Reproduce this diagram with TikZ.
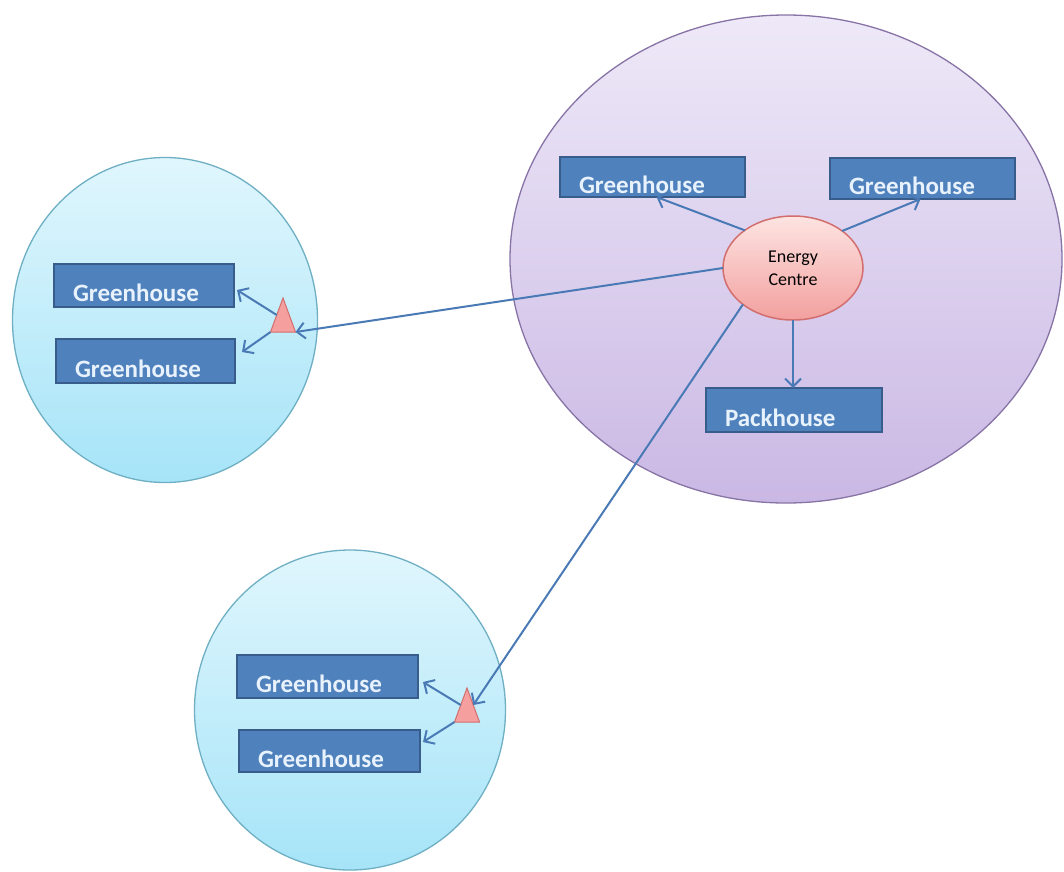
\documentclass[tikz,border=0pt]{standalone}
\usepackage{fontspec}
\setmainfont{Carlito}
\usetikzlibrary{shapes.geometric,arrows.meta}
\definecolor{boxfill}{RGB}{79,129,189}
\definecolor{boxline}{RGB}{56,93,138}
\definecolor{boxtext}{RGB}{232,242,252}
\definecolor{cytop}{RGB}{224,246,253}
\definecolor{cybot}{RGB}{166,228,248}
\definecolor{cyline}{RGB}{110,175,195}
\definecolor{pptop}{RGB}{238,233,248}
\definecolor{ppbot}{RGB}{202,184,228}
\definecolor{ppline}{RGB}{135,115,165}
\definecolor{ectop}{RGB}{253,228,226}
\definecolor{ecbot}{RGB}{242,160,158}
\definecolor{ecline}{RGB}{210,110,110}
\definecolor{trifill}{RGB}{245,160,158}
\definecolor{arrowc}{RGB}{74,122,182}
\tikzset{
  zone/.style={ellipse, draw, line width=1.3pt, inner sep=0pt, outer sep=0pt},
  cyanzone/.style={zone, draw=cyline, top color=cytop, bottom color=cybot},
  purplezone/.style={zone, draw=ppline, top color=pptop, bottom color=ppbot},
  housebase/.style={rectangle, draw=boxline, line width=2pt, fill=boxfill, text=boxtext,
    font=\fontsize{25}{29}\selectfont\bfseries, inner xsep=19pt, inner ysep=0pt,
    text height=32pt, text depth=0pt, align=left, outer sep=0pt},
  house/.style 2 args={housebase, minimum width=#1, minimum height=#2,
    /utils/exec={\pgfmathsetlengthmacro\housetw{#1-38pt}}, text width=\housetw},
  energy/.style={ellipse, draw=ecline, line width=1.5pt, top color=ectop, bottom color=ecbot,
    minimum width=140pt, minimum height=104pt, inner sep=0pt, outer sep=0pt, align=center,
    font=\fontsize{18}{23}\selectfont},
  tri/.style={isosceles triangle, isosceles triangle stretches, shape border rotate=90,
    minimum width=25pt, minimum height=34pt, inner sep=0pt, outer sep=0pt,
    draw=ecline, line width=1pt, fill=trifill},
  arr/.style={draw=arrowc, line width=2pt, -{Straight Barb[length=8pt, width=16pt]}}
}
\begin{document}
\begin{tikzpicture}[x=1pt, y=-1pt]
\useasboundingbox (0,0) rectangle (1064,871);
\node[purplezone, minimum width=552pt, minimum height=488pt] (big) at (786,259) {};
\node[cyanzone, minimum width=305pt, minimum height=325pt] (lc) at (165,320) {};
\node[cyanzone, minimum width=311pt, minimum height=320pt] (bc) at (350,710) {};

\node[house={185pt}{40pt}] (g1) at (652.5,177) {Greenhouse};
\node[house={185pt}{41pt}] (g2) at (922.5,178.5) {Greenhouse};
\node[house={176pt}{44pt}] (ph) at (794,410) {Packhouse};
\node[house={180pt}{43pt}] (lg1) at (144,285.5) {Greenhouse};
\node[house={179pt}{44pt}] (lg2) at (145.5,361) {Greenhouse};
\node[house={181pt}{43pt}] (bg1) at (327.5,676.5) {Greenhouse};
\node[house={181pt}{42pt}] (bg2) at (329.5,751) {Greenhouse};

\node[energy] (ec) at (793,268) {Energy\\Centre};
\node[tri, anchor=apex] (lt) at (283,298) {};
\node[tri, anchor=apex] (bt) at (467,688) {};

\draw[arr] (ec.142.8) -- ([xshift=4pt]g1.south);
\draw[arr] (ec.37.2) -- ([xshift=-2pt]g2.south);
\draw[arr] (ec.south) -- (ec.south |- ph.north);
\draw[arr] (ec.west) -- (lt.right corner);
\draw[arr] (ec.216.5) -- (bt.right side);
\draw[arr] (lt.left side) -- ([xshift=3pt,yshift=-4.5pt]lg1.east);
\draw[arr] (lt.left corner) -- ([xshift=7pt,yshift=9pt]lg2.east);
\draw[arr] (bt.left side) -- ([xshift=5pt,yshift=-5.5pt]bg1.east);
\draw[arr] (bt.left corner) -- ([xshift=3pt,yshift=9pt]bg2.east);
\end{tikzpicture}
\end{document}
